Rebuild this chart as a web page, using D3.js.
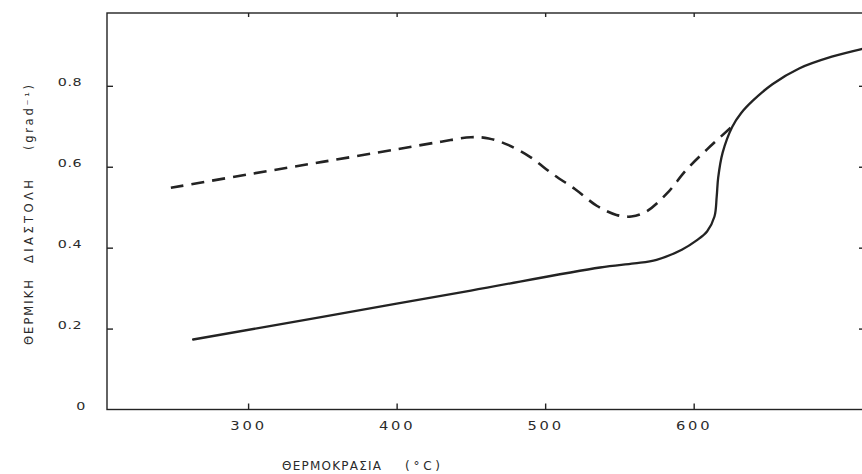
<!DOCTYPE html>
<html><head><meta charset="utf-8">
<script src="https://cdn.jsdelivr.net/npm/d3@7"></script>
<style>body{margin:0;background:#fff}svg{display:block}</style></head>
<body><svg id="c" width="862" height="474"></svg>
<script>
// ---- data ----
const xTicks = [300, 400, 500, 600];
const yTicks = [0, 0.2, 0.4, 0.6, 0.8];
const yTickLabels = ["0", "0.2", "0.4", "0.6", "0.8"];
// solid curve: temperature (°C) and thermal expansion
const solidT = [263, 350, 450, 537, 560, 575, 592, 602, 609, 614, 615.5, 616.5, 619.5, 626, 632, 640, 653, 671, 693, 713];
const solidV = [0.173, 0.229, 0.294, 0.351, 0.361, 0.370, 0.395, 0.418, 0.440, 0.477, 0.526, 0.573, 0.635, 0.699, 0.733, 0.764, 0.804, 0.843, 0.872, 0.891];
// dashed curve
const dashT = [248, 300, 350, 400, 430, 450, 462, 475, 490, 505, 520, 535, 548, 558, 568, 582, 595, 609, 626];
const dashV = [0.548, 0.581, 0.612, 0.643, 0.662, 0.673, 0.670, 0.654, 0.624, 0.582, 0.545, 0.503, 0.481, 0.477, 0.489, 0.534, 0.592, 0.643, 0.700];
const xTitle = ["ΘΕΡΜΟΚΡΑΣΙΑ", "(°C)"];
const yTitle = ["ΘΕΡΜΙΚΗ", "ΔΙΑΣΤΟΛΗ", "(grad⁻¹)"];

// ---- drawing ----
const svg = d3.select("#c");
const L = 107, R = 863, T = 13, B = 409.5;
const x = d3.scaleLinear().domain([205, 714]).range([L, R]);
const y = d3.scaleLinear().domain([0, 0.98]).range([B, T]);
const ink = "#232323";
const txt = "#2a2a2a";
const font = "'DejaVu Sans', sans-serif";

svg.append("rect").attr("x", L).attr("y", T).attr("width", R - L).attr("height", B - T)
  .attr("fill", "none").attr("stroke", ink).attr("stroke-width", 1.4);

function styleAxis(g) {
  g.select(".domain").remove();
  g.selectAll("line").attr("stroke", ink).attr("stroke-width", 1.4);
}
svg.append("g").attr("transform", `translate(0,${B})`)
  .call(d3.axisBottom(x).tickValues(xTicks).tickSize(-6).tickPadding(12).tickFormat(d3.format("d")))
  .call(styleAxis)
  .call(g => g.selectAll("text").attr("fill", txt).attr("font-family", font).attr("font-size", 11.5)
    .attr("letter-spacing", 2.2).attr("transform", "scale(1.28,1)"));
svg.append("g").attr("transform", `translate(0,${T})`)
  .call(d3.axisTop(x).tickValues(xTicks).tickSize(-4).tickFormat(""))
  .call(styleAxis);
svg.append("g").attr("transform", `translate(${L},0)`)
  .call(d3.axisLeft(y).tickValues(yTicks.slice(1)).tickSize(-6).tickFormat(""))
  .call(styleAxis);
svg.append("g").attr("transform", `translate(${R},0)`)
  .call(d3.axisRight(y).tickValues(yTicks.slice(1)).tickSize(-4).tickFormat(""))
  .call(styleAxis);

// y tick labels
svg.append("g").selectAll("text").data(yTicks).join("text")
  .attr("transform", d => `translate(${d === 0 ? 81 : 70},${y(d) + 0.5}) scale(1.3,1)`)
  .attr("text-anchor", "middle").attr("font-family", font).attr("font-size", 11)
  .attr("letter-spacing", 0.5).attr("fill", txt)
  .text((d, i) => yTickLabels[i]);

// curves
const line = d3.line().x(d => x(d[0])).y(d => y(d[1])).curve(d3.curveCatmullRom.alpha(0.5));
svg.append("path").datum(solidT.map((t, i) => [t, solidV[i]]))
  .attr("d", line).attr("fill", "none").attr("stroke", ink).attr("stroke-width", 2.3)
  .attr("stroke-linecap", "round");
svg.append("path").datum(dashT.map((t, i) => [t, dashV[i]]))
  .attr("d", line).attr("fill", "none").attr("stroke", ink).attr("stroke-width", 2.6)
  .attr("stroke-dasharray", "13,8");

// x title
svg.append("text").attr("x", 282).attr("y", 470).attr("textLength", 99)
  .attr("font-family", font).attr("font-size", 12).attr("fill", txt).text(xTitle[0]);
svg.append("text").attr("x", 405).attr("y", 470).attr("textLength", 35)
  .attr("font-family", font).attr("font-size", 12).attr("fill", txt).text(xTitle[1]);

// y title (rotated)
const yPos = [[345, 65], [263, 83], [150, 65]];
svg.append("g").selectAll("text").data(yTitle).join("text")
  .attr("transform", (d, i) => `translate(33,${yPos[i][0]}) rotate(-90)`)
  .attr("textLength", (d, i) => yPos[i][1])
  .attr("font-family", font).attr("font-size", 11.5).attr("fill", txt).text(d => d);
</script></body></html>
